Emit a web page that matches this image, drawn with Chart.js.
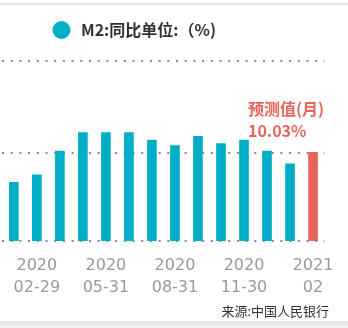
<!DOCTYPE html>
<html>
<head>
<meta charset="utf-8">
<script src="https://cdn.jsdelivr.net/npm/chart.js@4/dist/chart.umd.min.js"></script>
<style>
  html, body { margin: 0; padding: 0; background: #fff; }
  #wrap { position: relative; width: 348px; height: 328px; overflow: hidden; }
  #wrap::before { content: ""; position: absolute; left: 0; right: 0; top: 3px; height: 2px; background: #e2e2e2; }
  #wrap::after { content: ""; position: absolute; left: 0; right: 0; top: 321px; height: 7px;
    background: linear-gradient(#e4e4e4, #f2f2f2); }
  canvas { position: absolute; left: 0; top: 0; }
</style>
</head>
<body>
<div id="wrap"><canvas id="c" width="348" height="328"></canvas></div>
<script>
// Month-end dates of the M2 series (last one is the forecast month)
const categories = ['2020-01-31', '2020-02-29', '2020-03-31', '2020-04-30', '2020-05-31', '2020-06-30',
  '2020-07-31', '2020-08-31', '2020-09-30', '2020-10-31', '2020-11-30', '2020-12-31', '2021-01-31', '2021-02'];
// M2 year-on-year growth, %
const m2Values = [8.4, 8.8, 10.1, 11.1, 11.1, 11.1, 10.7, 10.4, 10.9, 10.5, 10.7, 10.1, 9.4, 10.03];
// Index of the forecast value
const forecastIndex = 13;
// Value axis range and its dotted reference lines
const yMin = 5.2;
const yMax = 15;
const yGridValues = [yMin, 10, 15];

const TEAL = '#00aec8';
const RED = '#e6645a';
const CJK = "'Noto Sans CJK SC', 'Noto Sans', sans-serif";

const legendPlugin = {
  id: 'legendDot',
  afterDraw(chart) {
    const ctx = chart.ctx;
    ctx.save();
    ctx.fillStyle = TEAL;
    ctx.beginPath();
    ctx.arc(61.5, 30, 9, 0, Math.PI * 2);
    ctx.fill();
    ctx.fillStyle = '#333';
    ctx.font = 'bold 16px ' + CJK;
    ctx.textAlign = 'left';
    ctx.textBaseline = 'middle';
    ctx.fillText(chart.data.datasets[0].label, 81, 30);
    ctx.restore();
  }
};

const forecastLabelPlugin = {
  id: 'forecastLabel',
  afterDatasetsDraw(chart) {
    const el = chart.getDatasetMeta(0).data[forecastIndex];
    const ctx = chart.ctx;
    ctx.save();
    ctx.fillStyle = RED;
    ctx.font = 'bold 16px ' + CJK;
    ctx.textAlign = 'left';
    ctx.textBaseline = 'middle';
    ctx.fillText('预测值(月)', el.x - 65, el.y - 43);
    ctx.fillText(m2Values[forecastIndex].toFixed(2) + '%', el.x - 65, el.y - 21);
    ctx.restore();
  }
};

const sourcePlugin = {
  id: 'sourceNote',
  afterDraw(chart) {
    const ctx = chart.ctx;
    ctx.save();
    ctx.fillStyle = '#333';
    ctx.font = '13px ' + CJK;
    ctx.textAlign = 'right';
    ctx.textBaseline = 'middle';
    ctx.fillText('来源:中国人民银行', 329, 311);
    ctx.restore();
  }
};

new Chart(document.getElementById('c'), {
  type: 'bar',
  data: {
    labels: categories,
    datasets: [{
      label: 'M2:同比单位:（%)',
      data: m2Values,
      backgroundColor: m2Values.map((v, i) => i === forecastIndex ? RED : TEAL),
      barThickness: 9,
      borderWidth: 0
    }]
  },
  options: {
    responsive: false,
    animation: false,
    layout: { padding: { left: 0, right: 19, top: 61, bottom: 0 } },
    plugins: { legend: { display: false }, tooltip: { enabled: false } },
    scales: {
      x: {
        grid: { display: false, drawTicks: false },
        border: { display: false },
        ticks: {
          autoSkip: false,
          maxRotation: 0,
          padding: 14,
          color: '#999',
          font: { family: "'DejaVu Sans', sans-serif", size: 16, lineHeight: 1.35 },
          callback: (v, i) => i % 3 === 1 ? categories[i].replace('-', '\n').split('\n') : ''
        },
        afterFit(scale) { scale.height = 87; }
      },
      y: {
        min: yMin,
        max: yMax,
        ticks: { display: false },
        border: { display: false, dash: [2, 6.7] },
        grid: { color: '#8a8a8a', lineWidth: 2, drawTicks: false },
        afterBuildTicks(scale) { scale.ticks = yGridValues.map(v => ({ value: v })); },
        afterFit(scale) { scale.width = 0; }
      }
    }
  },
  plugins: [legendPlugin, forecastLabelPlugin, sourcePlugin]
});
</script>
</body>
</html>
